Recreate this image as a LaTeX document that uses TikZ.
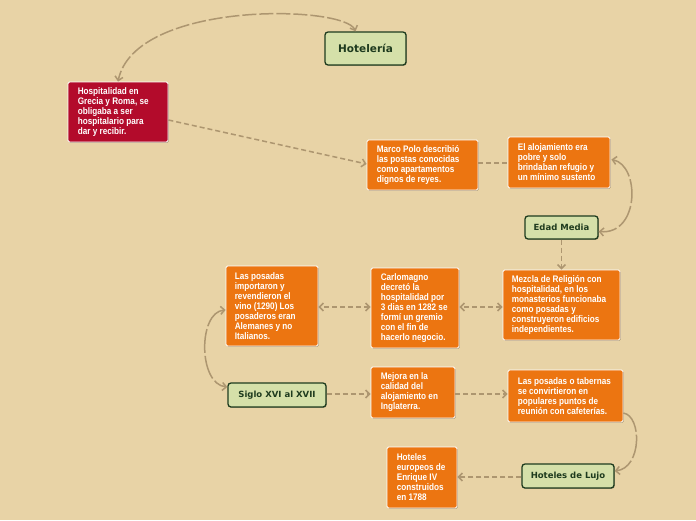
\documentclass[tikz,border=0pt]{standalone}
\usepackage{fontspec}
\usetikzlibrary{arrows.meta,shadows,calc}
\newfontfamily\narrowsans[FakeStretch=0.86]{Liberation Sans}
\newfontfamily\dejavu{DejaVu Sans}
\definecolor{bgc}{HTML}{E8D3A6}
\definecolor{orangec}{HTML}{EC7511}
\definecolor{redc}{HTML}{B30B2B}
\definecolor{greenfill}{HTML}{D5E0A9}
\definecolor{greenline}{HTML}{1E3B1E}
\definecolor{linkc}{HTML}{AD9670}
\tikzset{
  boxbase/.style={draw=white, line width=0.8pt, rounded corners=1.5pt, inner sep=0pt,
    drop shadow={shadow xshift=0.8pt, shadow yshift=-0.8pt, opacity=0.25, fill=black}},
  obox/.style={boxbase, fill=orangec},
  rbox/.style={boxbase, fill=redc},
  otext/.style={text=white, font={\narrowsans\bfseries\fontsize{9.5}{10}\selectfont}, align=left, inner sep=0pt, anchor=west},
  gbox/.style={fill=greenfill, draw=greenline, line width=1.3pt, rounded corners=3pt, inner sep=0pt,
    text=greenline, font={\dejavu\bfseries\fontsize{8.5}{10}\selectfont},
    drop shadow={shadow xshift=0.8pt, shadow yshift=-0.8pt, opacity=0.25, fill=black}},
  link/.style={draw=linkc, line width=1.5pt, dash pattern=on 5pt off 3pt,
    >={Straight Barb[length=4pt,width=8pt]}},
  curvelink/.style={link, dash pattern=on 14pt off 3pt},
}
\begin{document}
\begin{tikzpicture}[x=1pt,y=-1pt]
\fill[bgc] (0,0) rectangle (696,520);
\useasboundingbox (0,0) rectangle (696,520);

% green boxes
\node[gbox, minimum width=81pt, minimum height=33pt, font={\dejavu\bfseries\fontsize{10.5}{12}\selectfont}] (hotel) at (365.5,48.5) {Hotelería};
\node[gbox, minimum width=73pt, minimum height=23pt] (edad) at (561.5,227.5) {Edad Media};
\node[gbox, minimum width=98pt, minimum height=24pt] (siglo) at (277,395) {Siglo XVI al XVII};
\node[gbox, minimum width=92pt, minimum height=24pt] (lujo) at (568,476) {Hoteles de Lujo};

% text boxes
\node[rbox, minimum width=100pt, minimum height=60pt] (hosp) at (118,112) {};
\node[otext] (hospt) at ($(hosp.west)+(10,0)$) {Hospitalidad en\\Grecia y Roma, se\\obligaba a ser\\hospitalario para\\dar y recibir.};

\node[obox, minimum width=111pt, minimum height=50pt] (marco) at (422.5,165) {};
\node[otext] (marcot) at ($(marco.west)+(10,0)$) {Marco Polo describió\\las postas conocidas\\como apartamentos\\dignos de reyes.};

\node[obox, minimum width=102pt, minimum height=51pt] (aloj) at (559,162.5) {};
\node[otext] (alojt) at ($(aloj.west)+(10,0)$) {El alojamiento era\\pobre y solo\\brindaban refugio y\\un mínimo sustento};

\node[obox, minimum width=117pt, minimum height=70pt] (mezcla) at (561.5,305) {};
\node[otext] (mezclat) at ($(mezcla.west)+(9,0)$) {Mezcla de Religión con\\hospitalidad, en los\\monasterios funcionaba\\como posadas y\\construyeron edificios\\independientes.};

\node[obox, minimum width=88pt, minimum height=80pt] (carlo) at (415,308) {};
\node[otext] (carlot) at ($(carlo.west)+(10,0)$) {Carlomagno\\decretó la\\hospitalidad por\\3 dias en 1282 se\\formí un gremio\\con el fin de\\hacerlo negocio.};

\node[obox, minimum width=92pt, minimum height=80pt] (posadas) at (272,306) {};
\node[otext] (posadast) at ($(posadas.west)+(9,0)$) {Las posadas\\importaron y\\revendieron el\\vino (1290) Los\\posaderos eran\\Alemanes y no\\Italianos.};

\node[obox, minimum width=84pt, minimum height=51pt] (mejora) at (413,392.5) {};
\node[otext] (mejorat) at ($(mejora.west)+(10,0)$) {Mejora en la\\calidad del\\alojamiento en\\Inglaterra.};

\node[obox, minimum width=115pt, minimum height=52pt] (tabernas) at (565.5,396) {};
\node[otext] (tabernast) at ($(tabernas.west)+(10,0)$) {Las posadas o tabernas\\se convirtieron en\\populares puntos de\\reunión con cafeterías.};

\node[obox, minimum width=70pt, minimum height=61pt] (europ) at (422,477.5) {};
\node[otext] (europt) at ($(europ.west)+(10,0)$) {Hoteles\\europeos de\\Enrique IV\\construidos\\en 1788};

% connectors
\draw[curvelink, <->] ($(hotel.north)+(-10,0)$) .. controls (345,5) and (135,0) .. (hosp.north);
\draw[link, ->] ($(hosp.east)+(0,8)$) -- ($(marco.west)+(0,-1)$);
\draw[link] ($(marco.east)+(0,-2)$) -- ($(aloj.west)+(0,0.5)$);
\draw[curvelink, <->, dash pattern=on 24pt off 3pt] ($(aloj.east)+(1,-3)$) .. controls (640,165) and (640,235) .. ($(edad.east)+(0,4)$);
\draw[link, ->] (edad.south) -- (mezcla.north);
\draw[link, <->] ($(mezcla.west)+(0,2)$) -- ($(carlo.east)+(0,-1)$);
\draw[link, <->] ($(carlo.west)+(0,-1)$) -- ($(posadas.east)+(0,1)$);
\draw[curvelink, <->, dash pattern=on 24pt off 3pt] ($(posadas.west)+(0,4)$) .. controls (198,312) and (198,384) .. ($(siglo.west)+(0,-8)$);
\draw[link, ->] ($(siglo.east)+(0,-1)$) -- ($(mejora.west)+(0,1.5)$);
\draw[link, ->] ($(mejora.east)+(0,1.5)$) -- ($(tabernas.west)+(0,-2)$);
\draw[curvelink, ->, dash pattern=on 24pt off 3pt] ($(tabernas.east)+(0,17)$) .. controls (642,416) and (642,468) .. ($(lujo.east)+(0,-5)$);
\draw[link, ->] ($(lujo.west)+(0,1)$) -- ($(europ.east)+(0,-0.5)$);
\end{tikzpicture}
\end{document}
